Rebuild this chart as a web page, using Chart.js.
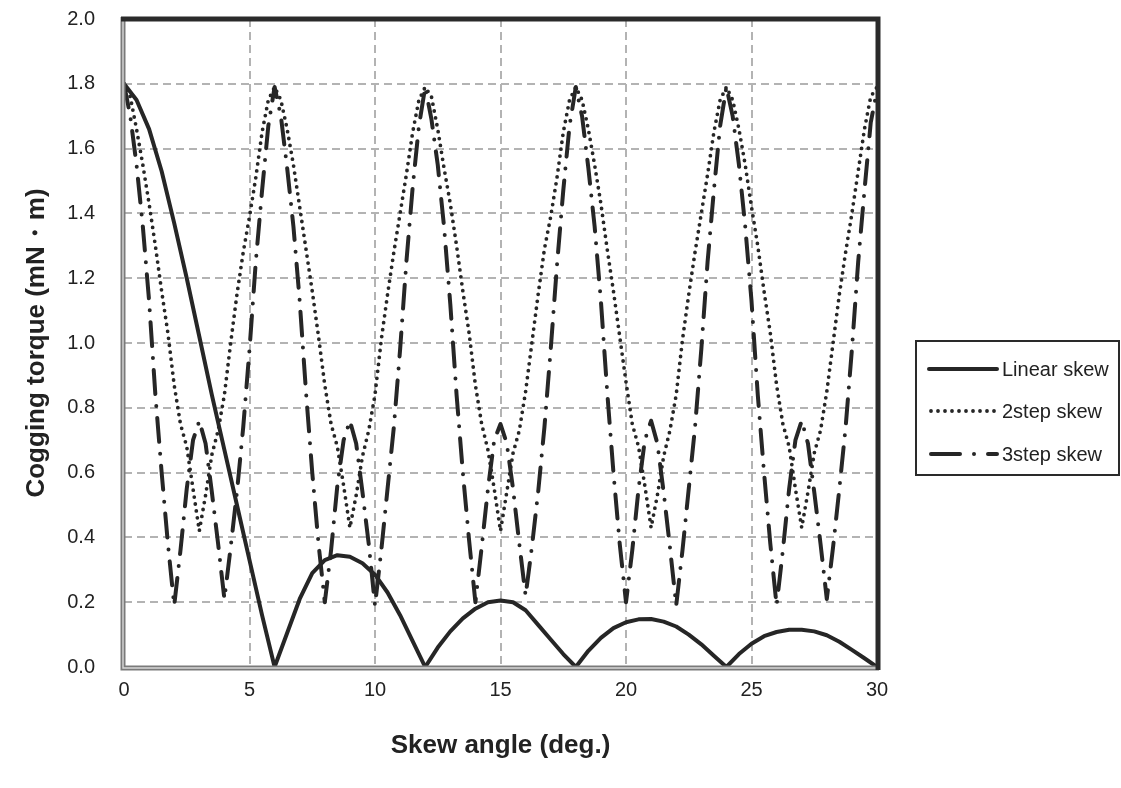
<!DOCTYPE html>
<html>
<head>
<meta charset="utf-8">
<script src="https://cdn.jsdelivr.net/npm/chart.js@4/dist/chart.umd.min.js"></script>
<style>
  html, body { margin: 0; padding: 0; background: #ffffff; }
  #wrap { width: 1121px; height: 788px; position: relative; }
</style>
</head>
<body>
<div id="wrap"><canvas id="c"></canvas></div>
<script>
// ---- Data ----
const seriesNames = ["Linear skew", "2step skew", "3step skew"];

const linearAngles = [0,0.5,1,1.5,2,2.5,3,3.5,4,4.5,5,5.5,6,6.5,7,7.5,8,8.5,9,9.5,10,10.5,11,11.5,12,
  12.5,13,13.5,14,14.5,15,15.5,16,16.5,17,17.5,18,18.5,19,19.5,20,20.5,21,21.5,22,22.5,23,23.5,24,
  24.5,25,25.5,26,26.5,27,27.5,28,28.5,29,29.5,30];
const linearTorque = [1.80,1.75,1.66,1.53,1.37,1.20,1.02,0.84,0.67,0.50,0.33,0.16,0.00,
  0.105,0.21,0.29,0.33,0.345,0.34,0.32,0.285,0.23,0.16,0.08,0.00,
  0.06,0.11,0.15,0.18,0.20,0.205,0.20,0.175,0.13,0.085,0.04,0.00,
  0.05,0.09,0.12,0.138,0.147,0.148,0.14,0.125,0.10,0.07,0.035,0.00,
  0.04,0.072,0.095,0.108,0.115,0.115,0.11,0.098,0.078,0.053,0.027,0.00];

const stepAngles = [0,0.25,0.5,0.75,1,1.25,1.5,1.75,2,2.25,2.5,2.75,3,3.25,3.5,3.75,4,4.25,4.5,4.75,5,5.25,5.5,5.75,
  6,6.25,6.5,6.75,7,7.25,7.5,7.75,8,8.25,8.5,8.75,9,9.25,9.5,9.75,10,10.25,10.5,10.75,11,11.25,11.5,11.75,
  12,12.25,12.5,12.75,13,13.25,13.5,13.75,14,14.25,14.5,14.75,15,15.25,15.5,15.75,16,16.25,16.5,16.75,17,17.25,17.5,17.75,
  18,18.25,18.5,18.75,19,19.25,19.5,19.75,20,20.25,20.5,20.75,21,21.25,21.5,21.75,22,22.25,22.5,22.75,23,23.25,23.5,23.75,
  24,24.25,24.5,24.75,25,25.25,25.5,25.75,26,26.25,26.5,26.75,27,27.25,27.5,27.75,28,28.25,28.5,28.75,29,29.25,29.5,29.75,30];

const twoStepTorque = [
  1.80,1.76,1.66,1.55,1.43,1.30,1.16,1.03,0.87,0.75,0.68,0.55,0.42,0.53,0.655,0.73,0.84,1.00,1.15,1.28,1.39,1.51,1.65,1.75,
  1.79,1.75,1.66,1.55,1.42,1.29,1.16,1.02,0.87,0.75,0.68,0.56,0.43,0.53,0.65,0.73,0.84,1.01,1.15,1.28,1.40,1.52,1.65,1.75,
  1.79,1.76,1.66,1.54,1.43,1.30,1.16,1.03,0.87,0.75,0.67,0.55,0.42,0.54,0.66,0.73,0.85,1.00,1.15,1.29,1.39,1.51,1.65,1.75,
  1.79,1.75,1.66,1.55,1.43,1.29,1.16,1.02,0.88,0.75,0.68,0.56,0.43,0.53,0.65,0.73,0.84,1.01,1.15,1.28,1.40,1.52,1.65,1.75,
  1.79,1.75,1.66,1.55,1.42,1.30,1.16,1.03,0.87,0.75,0.68,0.55,0.43,0.54,0.66,0.73,0.85,1.00,1.15,1.28,1.40,1.53,1.66,1.76,
  1.79];

const threeStepTorque = [
  1.80,1.70,1.55,1.36,1.13,0.84,0.60,0.38,0.19,0.36,0.55,0.70,0.76,0.69,0.54,0.38,0.21,0.37,0.54,0.74,0.98,1.25,1.47,1.67,
  1.79,1.70,1.54,1.36,1.13,0.85,0.60,0.38,0.20,0.36,0.56,0.70,0.76,0.69,0.54,0.38,0.19,0.36,0.55,0.74,0.98,1.25,1.48,1.67,
  1.79,1.69,1.55,1.36,1.12,0.84,0.60,0.39,0.20,0.37,0.55,0.70,0.75,0.69,0.55,0.38,0.22,0.37,0.54,0.74,0.98,1.24,1.47,1.67,
  1.79,1.70,1.54,1.36,1.13,0.85,0.60,0.38,0.20,0.36,0.55,0.70,0.76,0.69,0.54,0.37,0.19,0.36,0.55,0.74,0.98,1.25,1.47,1.67,
  1.79,1.70,1.55,1.36,1.13,0.84,0.60,0.38,0.19,0.36,0.55,0.70,0.76,0.69,0.54,0.38,0.21,0.37,0.55,0.74,0.98,1.25,1.47,1.68,
  1.78];

const xTitle = "Skew angle (deg.)";
const yTitle = "Cogging torque (mN\u30FBm)";

// ---- Build chart ----
const toPoints = (xs, ys) => xs.map((x, i) => ({ x: x, y: ys[i] }));
const INK = "#262626";
const FONT = "'Liberation Sans', Arial, sans-serif";

const styles = [
  { borderWidth: 4, borderDash: [], borderCapStyle: "round" },
  { borderWidth: 3.8, borderDash: [0, 7], borderCapStyle: "round" },
  { borderWidth: 4, borderDash: [24, 12, 0, 12], borderCapStyle: "round" }
];

const framePlugin = {
  id: "frame",
  afterDatasetsDraw(chart) {
    const { ctx, chartArea: a } = chart;
    ctx.save();
    ctx.lineCap = "butt";
    ctx.strokeStyle = "#7a7a7a";
    ctx.lineWidth = 5;
    ctx.beginPath();
    ctx.moveTo(a.left - 1, a.top - 2);
    ctx.lineTo(a.left - 1, a.bottom + 1);
    ctx.lineTo(a.right + 2, a.bottom + 1);
    ctx.stroke();
    ctx.strokeStyle = "#d8d8d8";
    ctx.lineWidth = 1.4;
    ctx.beginPath();
    ctx.moveTo(a.left - 1, a.top - 2);
    ctx.lineTo(a.left - 1, a.bottom + 1);
    ctx.lineTo(a.right + 2, a.bottom + 1);
    ctx.stroke();
    ctx.strokeStyle = "#2a2a2a";
    ctx.lineWidth = 5;
    ctx.beginPath();
    ctx.moveTo(a.left - 3, a.top);
    ctx.lineTo(a.right + 1, a.top);
    ctx.lineTo(a.right + 1, a.bottom + 3);
    ctx.stroke();
    ctx.restore();
  },
  afterDraw(chart) {
    const { ctx } = chart;
    ctx.save();
    ctx.strokeStyle = "#2a2a2a";
    ctx.lineWidth = 2;
    ctx.strokeRect(916, 341, 203, 134);
    const rowY = [369, 411, 454];
    chart.data.datasets.forEach((ds, i) => {
      ctx.strokeStyle = INK;
      ctx.lineWidth = ds.borderWidth;
      ctx.lineCap = ds.borderCapStyle;
      if (i === 2) ctx.setLineDash([29, 14, 0, 14]);
      else ctx.setLineDash(ds.borderDash);
      ctx.beginPath();
      ctx.moveTo(i === 0 ? 929 : 931, rowY[i]);
      ctx.lineTo(997, rowY[i]);
      ctx.stroke();
      ctx.setLineDash([]);
      ctx.fillStyle = "#222";
      ctx.font = "20px " + FONT;
      ctx.textBaseline = "middle";
      ctx.textAlign = "left";
      ctx.fillText(ds.label, 1002, rowY[i] + 1);
    });
    ctx.restore();
  }
};

new Chart(document.getElementById("c"), {
  type: "line",
  data: {
    datasets: [
      Object.assign({ label: seriesNames[0], data: toPoints(linearAngles, linearTorque) }, styles[0]),
      Object.assign({ label: seriesNames[1], data: toPoints(stepAngles, twoStepTorque) }, styles[1]),
      Object.assign({ label: seriesNames[2], data: toPoints(stepAngles, threeStepTorque) }, styles[2])
    ].map(d => Object.assign(d, {
      borderColor: INK, backgroundColor: INK, pointRadius: 0, tension: 0,
      borderJoinStyle: "round", fill: false
    }))
  },
  options: {
    responsive: true,
    maintainAspectRatio: false,
    animation: false,
    devicePixelRatio: 1,
    layout: { padding: { top: 19, right: 244, bottom: 0, left: 0 } },
    plugins: { legend: { display: false }, tooltip: { enabled: false } },
    scales: {
      x: {
        type: "linear", min: 0, max: 30,
        afterFit(s) { s.height = 121; },
        ticks: { stepSize: 5, padding: 11, color: "#222", font: { family: FONT, size: 20 } },
        grid: { color: "#b3b3b3", lineWidth: 2, drawTicks: false },
        border: { display: false, dash: [8, 5] },
        title: { display: true, text: xTitle, color: "#222", padding: { top: 0, bottom: 27 },
                 font: { family: FONT, size: 26, weight: "bold" } }
      },
      y: {
        type: "linear", min: 0, max: 2,
        afterFit(s) { s.width = 124; s.paddingTop = 0; s.paddingBottom = 0; },
        ticks: { stepSize: 0.2, padding: 29, color: "#222", font: { family: FONT, size: 20 },
                 callback: v => Number(v).toFixed(1) },
        grid: { color: "#b3b3b3", lineWidth: 2, drawTicks: false },
        border: { display: false, dash: [8, 5] },
        title: { display: true, text: yTitle, color: "#222", padding: { top: 21, bottom: 0 },
                 font: { family: FONT, size: 26, weight: "bold" } }
      }
    }
  },
  plugins: [framePlugin]
});
</script>
</body>
</html>
